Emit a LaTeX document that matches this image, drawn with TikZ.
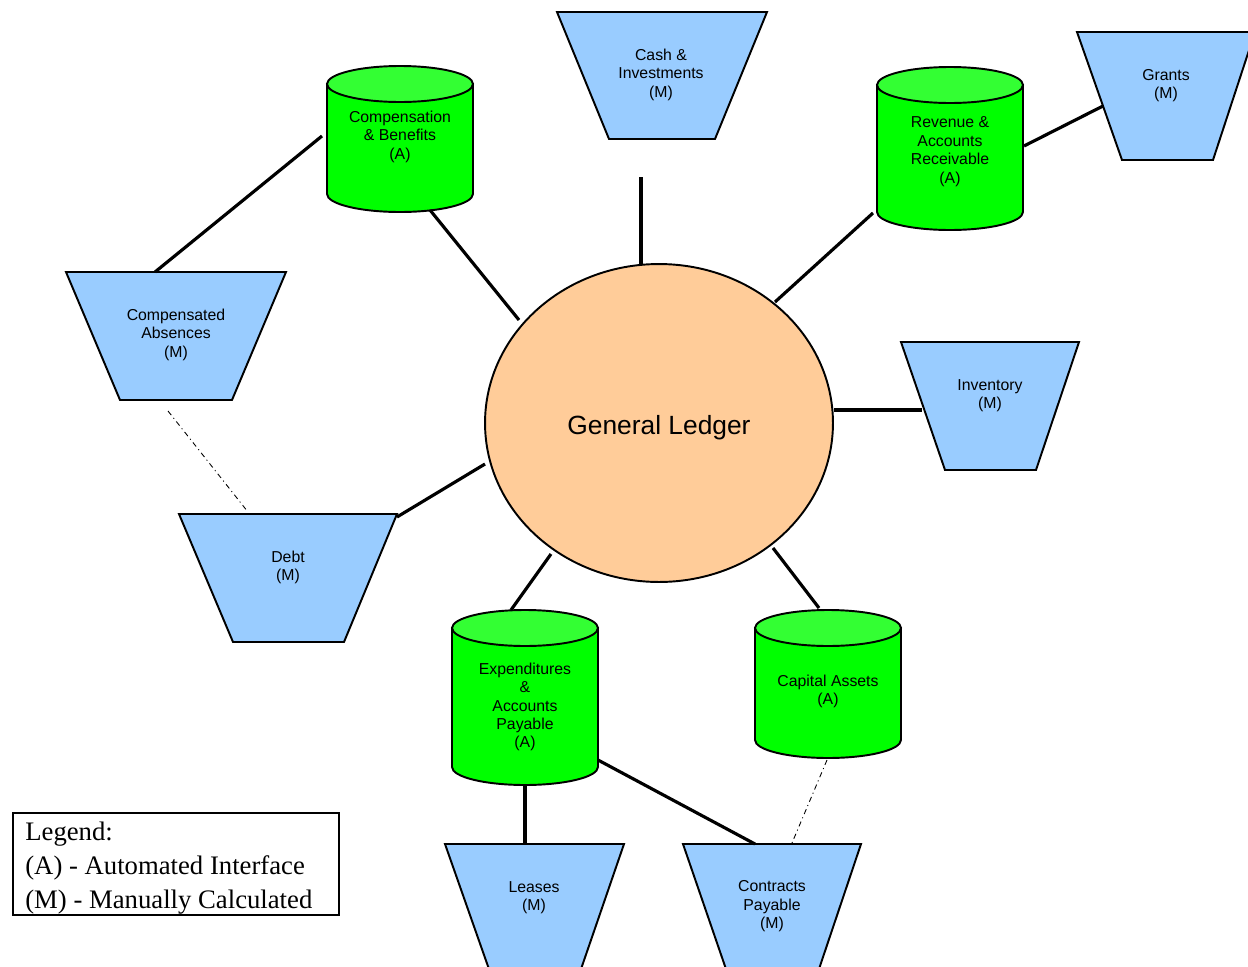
\documentclass[tikz,border=0pt]{standalone}
\usepackage{fontspec}
\usetikzlibrary{shapes.geometric}
\setmainfont{Liberation Serif}
\setsansfont{Liberation Sans}
\definecolor{trapblue}{HTML}{99CCFF}
\definecolor{cylgreen}{HTML}{00FF00}
\definecolor{cyltop}{HTML}{33FF33}
\definecolor{ledger}{HTML}{FFCC99}
\tikzset{
  trapshape/.style={draw=black, fill=trapblue, line width=1.1pt, line join=miter},
  cylbody/.style={draw=black, fill=cylgreen, line width=1.1pt},
  cyllid/.style={draw=black, fill=cyltop, line width=1.1pt},
  lbl/.style={font=\sffamily\fontsize{9}{10.5}\selectfont, align=center, inner sep=0pt, yshift=-2.5*0.02cm},
  link/.style={line width=1.8pt},
  weak/.style={line width=0.5pt, dash pattern=on 3pt off 2pt on 0.6pt off 2pt},
}
% cylinder: centre x, lid centre y, base centre y, label name, label y, text
\newcommand\drum[6]{%
  \path[cylbody] (#1-73,#2) -- (#1-73,#3) arc[start angle=180, end angle=360, x radius=1.46cm, y radius=0.36cm] -- (#1+73,#2) -- cycle;
  \path[cyllid] (#1,#2) ellipse[x radius=1.46cm, y radius=0.36cm];
  \node[lbl] (#4) at (#1,#5) {#6};}
\begin{document}
\begin{tikzpicture}[x=0.02cm, y=-0.02cm]
\useasboundingbox (0,0) rectangle (1248,967);

% central ledger
\node[draw=black, fill=ledger, line width=1.1pt, ellipse, minimum width=6.96cm, minimum height=6.36cm, inner sep=0pt] (gl) at (659,423) {};
\node[font=\sffamily\fontsize{15}{18}\selectfont] (gltext) at (659,428) {General Ledger};

% manually calculated sources
\path[trapshape] (557,12) -- (767,12) -- (715,139) -- (609,139) -- cycle;
\node[lbl] (cash) at (661,72) {Cash \&\\Investments\\(M)};
\path[trapshape] (1077,32) -- (1255,32) -- (1213,160) -- (1122,160) -- cycle;
\node[lbl] (grants) at (1166,83) {Grants\\(M)};
\path[trapshape] (901,342) -- (1079,342) -- (1036,470) -- (945,470) -- cycle;
\node[lbl] (inv) at (990,393) {Inventory\\(M)};
\path[trapshape] (66,272) -- (286,272) -- (232,400) -- (120,400) -- cycle;
\node[lbl] (absences) at (176,332) {Compensated\\Absences\\(M)};
\path[trapshape] (179,514) -- (397,514) -- (344,642) -- (233,642) -- cycle;
\node[lbl] (debt) at (288,565) {Debt\\(M)};
\path[trapshape] (445,844) -- (624,844) -- (580,972) -- (490,972) -- cycle;
\node[lbl] (leases) at (534,895) {Leases\\(M)};
\path[trapshape] (683,844) -- (861,844) -- (818,972) -- (727,972) -- cycle;
\node[lbl] (contracts) at (772,904) {Contracts\\Payable\\(M)};

% automated interfaces
\drum{400}{84}{194}{comp}{134}{Compensation\\\& Benefits\\(A)}
\drum{950}{85}{212}{rev}{149}{Revenue \&\\Accounts\\Receivable\\(A)}
\drum{525}{628}{767}{exp}{704.5}{Expenditures\\\&\\Accounts\\Payable\\(A)}
\drum{828}{628}{740}{cap}{689}{Capital Assets\\(A)}

% connector end points
\coordinate (absT) at (155,272);   \coordinate (compL) at (322,136);
\coordinate (compB) at (430,210);  \coordinate (glCB) at (519,320);
\coordinate (cashB) at (641,177);  \coordinate (glC) at (641,265);
\coordinate (revL) at (873,213);   \coordinate (glR) at (775,302);
\coordinate (revR) at (1024,146);  \coordinate (grL) at (1103,106);
\coordinate (glI) at (834,410);    \coordinate (invL) at (922,410);
\coordinate (glD) at (485,464);    \coordinate (debtR) at (397,517);
\coordinate (glE) at (551,554);    \coordinate (expT) at (511,610);
\coordinate (glK) at (773,548);    \coordinate (capT) at (819,608);
\coordinate (expB) at (525,785);   \coordinate (leaT) at (525,844);
\coordinate (expR) at (598,760);   \coordinate (conT) at (755,844);
\coordinate (absB) at (168,411);   \coordinate (debtT) at (248,512);
\coordinate (capB) at (827,760);   \coordinate (conT2) at (792,843);

\draw[link] (absT) -- (compL);
\draw[link] (compB) -- (glCB);
\draw[link] (cashB) -- (glC);
\draw[link] (revL) -- (glR);
\draw[link] (revR) -- (grL);
\draw[link] (glI) -- (invL);
\draw[link] (glD) -- (debtR);
\draw[link] (glE) -- (expT);
\draw[link] (glK) -- (capT);
\draw[link] (expB) -- (leaT);
\draw[link] (expR) -- (conT);
\draw[weak] (absB) -- (debtT);
\draw[weak] (capB) -- (conT2);

% legend
\node[draw=black, line width=0.9pt, anchor=north west, minimum width=6.52cm, minimum height=2.04cm, inner sep=0pt] (legendbox) at (12,812) {};
\node[anchor=north west, align=left, inner sep=0pt, font=\fontsize{15.2}{19.3}\selectfont] (legend) at (25,822) {Legend:\\(A) - Automated Interface\\(M) - Manually Calculated};
\end{tikzpicture}
\end{document}
